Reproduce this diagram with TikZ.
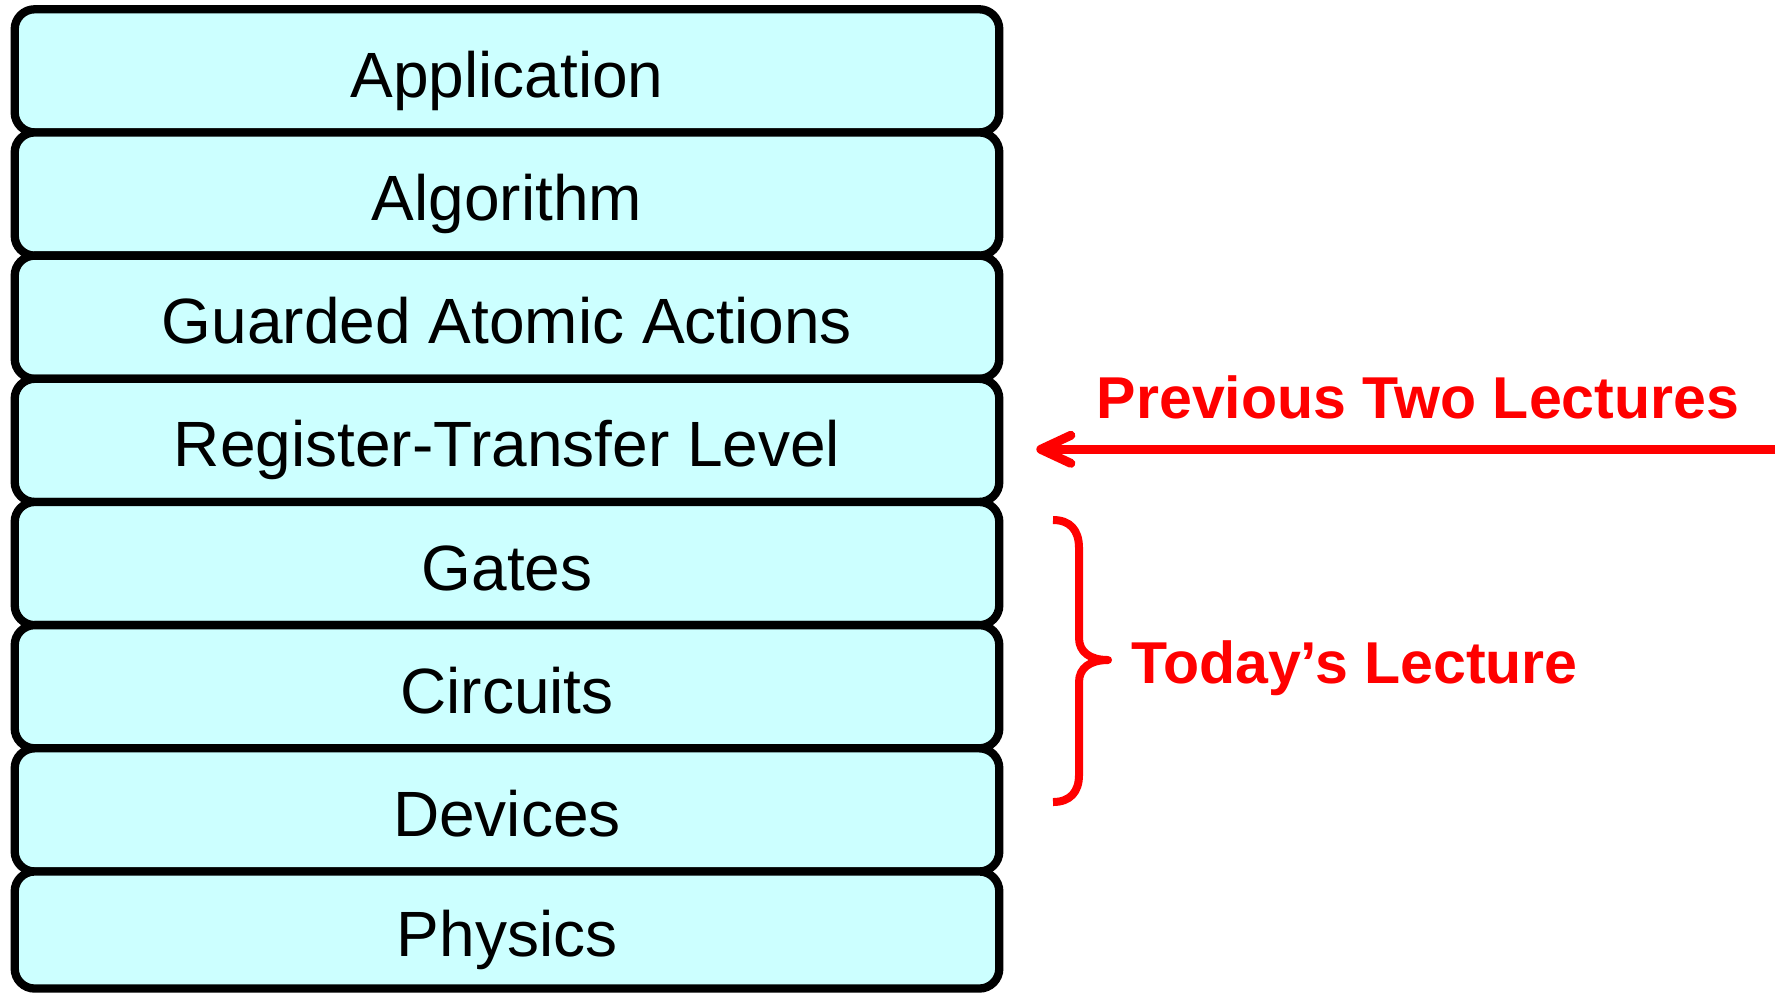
\documentclass[tikz,border=0pt]{standalone}
\usepackage{fontspec}
\setmainfont{Liberation Sans}
\usetikzlibrary{positioning,arrows.meta}
\definecolor{layercyan}{RGB}{204,255,255}
\definecolor{lecred}{RGB}{255,0,0}
\tikzset{
  layer/.style={rectangle,draw=black,fill=layercyan,line width=0.83mm,rounded corners=2mm,
    minimum width=9.84cm,minimum height=1.231cm,outer sep=0pt,inner sep=0pt,
    text height=5.3mm,text depth=0pt,font=\fontsize{18.2}{22}\selectfont},
  lbl/.style={text=lecred,font=\fontsize{16.8}{20}\selectfont\bfseries,inner sep=0pt,anchor=base},
  redptr/.style={-{Straight Barb[length=3mm,width=2.8mm,round]},draw=lecred,line width=0.9mm},
  brace/.style={draw=lecred,line width=0.8mm,line join=round},
}
\begin{document}
\begin{tikzpicture}[x=0.01cm,y=-0.01cm,node distance=0pt]
  \useasboundingbox (0,0) rectangle (1783,993);
  \node[layer] (app) at (507,70.85) {Application};
  \node[layer,below=of app] (alg) {Algorithm};
  \node[layer,below=of alg] (gaa) {Guarded Atomic Actions};
  \node[layer,below=of gaa] (rtl) {Register-Transfer Level};
  \node[layer,below=of rtl] (gates) {Gates};
  \node[layer,below=of gates] (circ) {Circuits};
  \node[layer,below=of circ] (dev) {Devices};
  \node[layer,below=of dev,minimum height=1.17cm] (phys) {Physics};
  \node[lbl] (prevlbl) at (1418,418) {Previous Two Lectures};
  \node[lbl] (todaylbl) at (1354.5,683) {Today's Lecture};
  \coordinate (prevtail) at (1775,449.3);
  \draw[redptr,shorten >=3.7mm] (prevtail) -- (rtl.east |- prevtail);
  \draw[brace] (1053,520) .. controls (1070,520) and (1079,530) .. (1079,548) -- (1079,638)
    .. controls (1079,652) and (1090,660) .. (1108,660)
    .. controls (1090,660) and (1079,668) .. (1079,682) -- (1079,775)
    .. controls (1079,792) and (1070,802) .. (1053,802);
\end{tikzpicture}
\end{document}
